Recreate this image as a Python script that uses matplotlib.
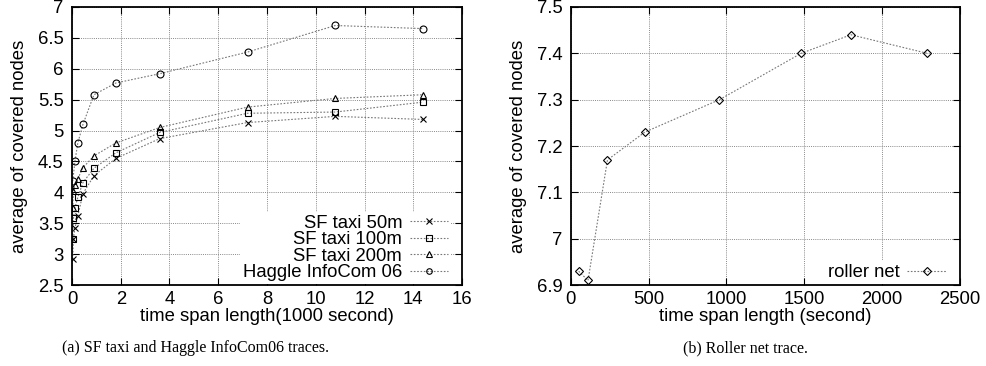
import matplotlib
matplotlib.use('Agg')
import matplotlib.pyplot as plt
import numpy as np

plt.rcParams['font.family'] = ['Liberation Sans', 'DejaVu Sans']

# (a) SF taxi and Haggle InfoCom06, time span in 1000 s
taxi_t = [0.03, 0.06, 0.12, 0.24, 0.45, 0.9, 1.8, 3.6, 7.2, 10.8, 14.4]
taxi_50 = [2.92, 3.25, 3.42, 3.62, 3.98, 4.27, 4.55, 4.87, 5.13, 5.23, 5.18]
taxi_100 = [3.25, 3.58, 3.75, 3.92, 4.16, 4.39, 4.64, 4.97, 5.28, 5.30, 5.46]
taxi_200 = [3.75, 4.03, 4.12, 4.22, 4.40, 4.59, 4.80, 5.05, 5.38, 5.52, 5.58]
haggle_t = [0.03, 0.12, 0.24, 0.45, 0.9, 1.8, 3.6, 7.2, 10.8, 14.4]
haggle = [4.18, 4.50, 4.80, 5.10, 5.58, 5.77, 5.92, 6.27, 6.70, 6.65]

# (b) Roller net, time span in s
roller_t = [50, 110, 235, 475, 955, 1480, 1800, 2290]
roller = [6.93, 6.91, 7.17, 7.23, 7.30, 7.40, 7.44, 7.40]

FS = 13.3

fig = plt.figure(figsize=(9.86, 3.66), dpi=100)
ax1 = fig.add_axes([0.073, 0.221, 0.3956, 0.76])
ax2 = fig.add_axes([0.579, 0.221, 0.3945, 0.76])

line_kw = dict(color='#777777', linestyle=(0, (1.5, 1.5)), linewidth=0.8,
               markeredgecolor='black', markerfacecolor='none', markeredgewidth=0.8)

ax1.plot(taxi_t, taxi_50, marker='x', markersize=5, label='SF taxi 50m', **line_kw)
ax1.plot(taxi_t, taxi_100, marker='s', markersize=5, label='SF taxi 100m', **line_kw)
ax1.plot(taxi_t, taxi_200, marker='^', markersize=5, label='SF taxi 200m', **line_kw)
ax1.plot(haggle_t, haggle, marker='o', markersize=5, label='Haggle InfoCom 06', **line_kw)

ax2.plot(roller_t, roller, marker='D', markersize=4, label='roller net', **line_kw)

ax1.set_xlim(0, 16)
ax1.set_ylim(2.5, 7)
ax1.set_xticks(np.arange(0, 17, 2))
ax1.set_yticks(np.arange(2.5, 7.01, 0.5))
ax1.set_yticklabels(['%g' % v for v in np.arange(2.5, 7.01, 0.5)])
ax1.set_xlabel('time span length(1000 second)', fontsize=FS, labelpad=0)
ax1.set_ylabel('average of covered nodes', fontsize=FS, labelpad=7)

ax2.set_xlim(0, 2500)
ax2.set_ylim(6.9, 7.5)
ax2.set_xticks(np.arange(0, 2501, 500))
ax2.set_yticks(np.arange(6.9, 7.51, 0.1))
ax2.set_yticklabels(['%g' % round(v, 1) for v in np.arange(6.9, 7.51, 0.1)])
ax2.set_xlabel('time span length (second)', fontsize=FS, labelpad=0)
ax2.set_ylabel('average of covered nodes', fontsize=FS, labelpad=7)

for ax in (ax1, ax2):
    ax.grid(True, color='#888888', linestyle=(0, (1, 1.2)), linewidth=0.7)
    ax.set_axisbelow(True)
    ax.tick_params(direction='in', top=True, right=True, labelsize=FS,
                   length=5, width=0.8)
    ax.tick_params(axis='y', pad=6)
    ax.tick_params(axis='x', pad=4)
    for s in ax.spines.values():
        s.set_linewidth(1.3)
    leg = ax.legend(loc='lower right', bbox_to_anchor=(0.972, 0.004),
                    markerfirst=False, fontsize=FS,
                    handlelength=2.1, handletextpad=0.4, labelspacing=-0.03,
                    borderpad=0.15, borderaxespad=0, frameon=True,
                    fancybox=False, framealpha=1)
    leg.get_frame().set_edgecolor('none')
    for t in leg.get_texts():
        t.set_ha('right')
    for h in leg.legend_handles:
        h.set_markersize(4)

fig.text(196 / 986, 1 - 348 / 366, '(a) SF taxi and Haggle InfoCom06 traces.',
         family='Liberation Serif', fontsize=11.5, ha='center', va='center')
fig.text(745 / 986, 1 - 348 / 366, '(b) Roller net trace.',
         family='Liberation Serif', fontsize=11.5, ha='center', va='center')

fig.savefig('out.png', dpi=100)
